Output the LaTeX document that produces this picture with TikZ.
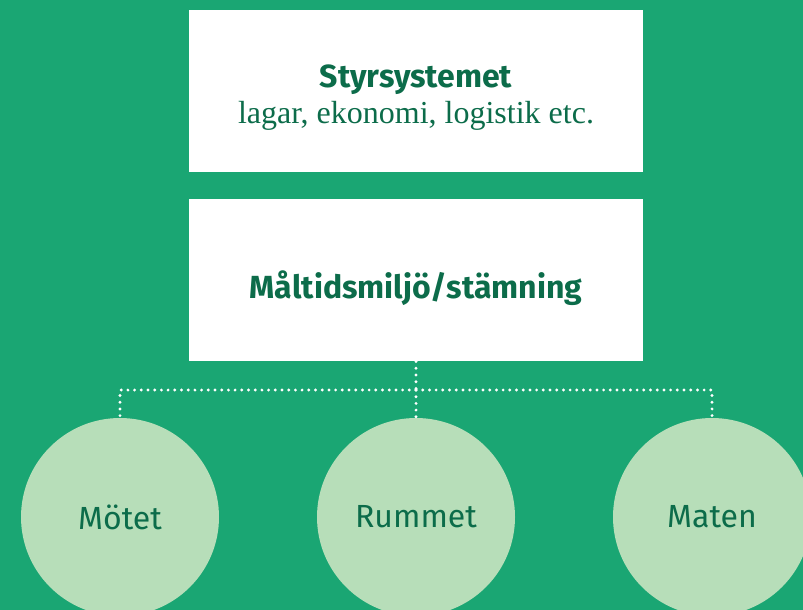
\documentclass[tikz,border=0pt]{standalone}
\usepackage{fontspec}
\setmainfont{Liberation Serif}
\setsansfont{Fira Sans}
\usepackage{xcolor}
\definecolor{bggreen}{RGB}{26,166,115}
\definecolor{txtgreen}{RGB}{12,108,74}
\definecolor{lightgreen}{RGB}{183,222,185}
\usetikzlibrary{positioning}

\tikzset{
  levelbox/.style={fill=white, draw=none, minimum width=454pt, minimum height=162pt, inner sep=0pt, align=center, text=txtgreen, font=\sffamily\bfseries\fontsize{32}{36}\selectfont},
  subtext/.style={inner sep=0pt, text=txtgreen, font=\fontsize{32}{36}\selectfont},
  partcircle/.style={circle, fill=lightgreen, draw=none, minimum size=198pt, inner sep=0pt, text=txtgreen, font=\sffamily\fontsize{32}{36}\selectfont},
  dotline/.style={white, line width=3.2pt, line cap=round, dash pattern=on 0pt off 6.7pt}
}

\begin{document}
\begin{tikzpicture}[x=1pt, y=-1pt]
  % Background
  \fill[bggreen] (0,0) rectangle (803,610);
  \useasboundingbox (0,0) rectangle (803,610);
  \clip (0,0) rectangle (803,610);

  % --- Boxes ---
  \node[levelbox, text height=10pt, text depth=18pt] (styr) at (416,91) {Styrsystemet};
  \node[subtext, anchor=base] (styrsub) at ([yshift=-32pt]styr.center) {lagar, ekonomi, logistik etc.};
  \node[levelbox, below=27pt of styr, text height=60pt, text depth=24pt] (miljo) {Måltidsmiljö/stämning};

  % --- Circles ---
  \node[partcircle] (motet) at (120,517) {Mötet};
  \node[partcircle] (rummet) at (416,517) {Rummet};
  \node[partcircle] (maten) at (712,517) {Maten};

  % Dotted connectors
  \coordinate (split) at (416,390);
  \draw[dotline] (miljo.south) -- (split);
  \draw[dotline] (split) -| (motet.north);
  \draw[dotline] (split) -| (maten.north);
  \draw[dotline] (split) -- (rummet.north);
\end{tikzpicture}
\end{document}
